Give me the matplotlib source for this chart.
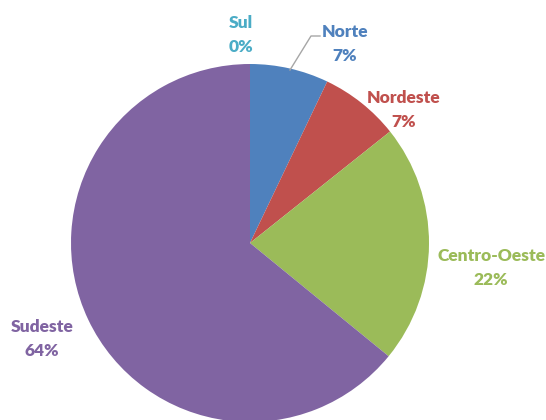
import matplotlib
matplotlib.use("Agg")
import matplotlib.pyplot as plt

categories = ["Norte", "Nordeste", "Centro-Oeste", "Sudeste", "Sul"]
values = [7.1, 7.2, 21.6, 64.1, 0.0]
colors = ["#4F81BD", "#C0504D", "#9BBB59", "#8064A2", "#4BACC6"]
label_colors = ["#4F81BD", "#C0504D", "#9BBB59", "#8064A2", "#4BACC6"]

plt.rcParams['font.family'] = ['Lato', 'DejaVu Sans']

W, H = 546, 420
CX, CY, R = 250, 243, 179
fig = plt.figure(figsize=(W / 100, H / 100), dpi=100)
ax = fig.add_axes([0, 0, 1, 1])

def p(px, py):
    return ((px - CX) / R, (CY - py) / R)

ax.pie(values, colors=colors, startangle=90, counterclock=False,
       radius=1.0, center=(0, 0), frame=True,
       wedgeprops=dict(linewidth=0))
ax.set_xlim(-CX / R, (W - CX) / R)
ax.set_ylim(-(H - CY) / R, CY / R)
ax.set_aspect('auto')
ax.axis('off')

label_pos = {
    "Norte": (345, 44),
    "Nordeste": (404, 110),
    "Centro-Oeste": (491, 268),
    "Sudeste": (42, 339),
    "Sul": (241, 35),
}
for cat, val, col in zip(categories, values, label_colors):
    x, y = p(*label_pos[cat])
    ax.text(x, y, f"{cat}\n{round(val):.0f}%", ha='center', va='center',
            color=col, fontsize=12.5, fontweight='heavy', linespacing=1.55)

# leader line for Norte
lx = [p(290, 70)[0], p(311, 36)[0], p(320, 36)[0]]
ly = [p(290, 70)[1], p(311, 36)[1], p(320, 36)[1]]
ax.plot(lx, ly, color='#A6A6A6', lw=1)

fig.savefig("out.png", dpi=100)
